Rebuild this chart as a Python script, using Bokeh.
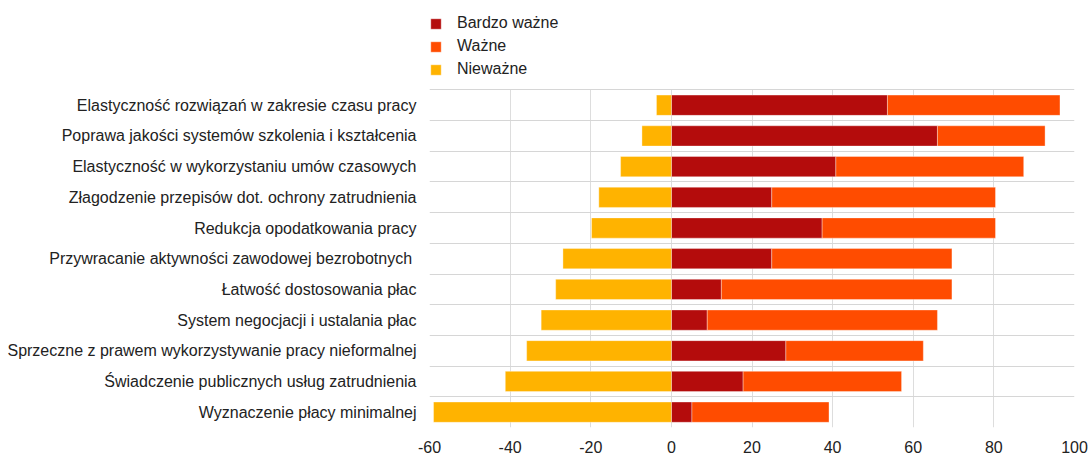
from bokeh.plotting import figure
from bokeh.models import ColumnDataSource, FixedTicker, Range1d, Legend, LegendItem
from bokeh.embed import file_html
from bokeh.resources import INLINE

categories = [
    "Elastyczność rozwiązań w zakresie czasu pracy",
    "Poprawa jakości systemów szkolenia i kształcenia",
    "Elastyczność w wykorzystaniu umów czasowych",
    "Złagodzenie przepisów dot. ochrony zatrudnienia",
    "Redukcja opodatkowania pracy",
    "Przywracanie aktywności zawodowej bezrobotnych ",
    "Łatwość dostosowania płac",
    "System negocjacji i ustalania płac",
    "Sprzeczne z prawem wykorzystywanie pracy nieformalnej",
    "Świadczenie publicznych usług zatrudnienia",
    "Wyznaczenie płacy minimalnej",
]
bardzo_wazne = [53.6, 66.0, 40.8, 24.9, 37.4, 24.9, 12.4, 8.9, 28.4, 17.8, 5.1]
wazne = [42.8, 26.7, 46.6, 55.5, 43.0, 44.7, 57.2, 57.1, 34.1, 39.3, 34.0]
niewazne = [3.7, 7.3, 12.6, 18.0, 19.8, 26.9, 28.7, 32.3, 35.9, 41.2, 59.0]
x_ticks = [-60, -40, -20, 0, 20, 40, 60, 80, 100]

n = len(categories)
ys = [n - i - 0.5 for i in range(n)]

src = ColumnDataSource(dict(
    y=ys,
    neg=[-v for v in niewazne],
    zero=[0] * n,
    bw=bardzo_wazne,
    tot=[a + b for a, b in zip(bardzo_wazne, wazne)],
))

FONT = "Liberation Sans"
FS = "16px"

p = figure(width=1088, height=455, output_backend="svg", toolbar_location=None,
           x_range=Range1d(-60, 100), y_range=Range1d(0, 13.75),
           min_border_left=8, min_border_right=14, min_border_bottom=0, min_border_top=5)
p.title.visible = False
p.outline_line_color = None

bh = 0.66
r1 = p.hbar(y="y", left="zero", right="bw", height=bh, source=src,
            fill_color="#B40C0C", line_color="white", line_alpha=0.35)
r2 = p.hbar(y="y", left="bw", right="tot", height=bh, source=src,
            fill_color="#FF4C00", line_color="white", line_alpha=0.35)
r3 = p.hbar(y="y", left="neg", right="zero", height=bh, source=src,
            fill_color="#FFB300", line_color="white", line_alpha=0.35)

# axes
p.xaxis.ticker = FixedTicker(ticks=x_ticks)
p.xaxis.major_label_overrides = {t: str(t) for t in x_ticks}
p.xaxis.axis_line_color = None
p.xaxis.major_tick_line_color = None
p.xaxis.minor_tick_line_color = None
p.xaxis.major_label_text_font = FONT
p.xaxis.major_label_text_font_size = FS
p.xaxis.major_label_text_color = "#222222"
p.xaxis.major_label_standoff = 7

p.yaxis.ticker = FixedTicker(ticks=ys)
p.yaxis.major_label_overrides = {y: c for y, c in zip(ys, categories)}
p.yaxis.axis_line_color = None
p.yaxis.major_tick_line_color = None
p.yaxis.minor_tick_line_color = None
p.yaxis.major_tick_out = 0
p.yaxis.major_tick_in = 0
p.yaxis.major_label_text_font = FONT
p.yaxis.major_label_text_font_size = FS
p.yaxis.major_label_text_color = "#222222"
p.yaxis.major_label_standoff = 13
p.yaxis.axis_label = " "
p.yaxis.axis_label_text_font_size = "1px"
p.yaxis.axis_label_standoff = 0

p.xgrid.ticker = FixedTicker(ticks=x_ticks)
p.xgrid.grid_line_color = "#dddddd"
p.xgrid.cross_bounds = (0, n)
p.ygrid.ticker = FixedTicker(ticks=list(range(n + 1)))
p.ygrid.grid_line_color = "#d6d6d6"
p.ygrid.cross_bounds = (-60, 100)

legend = Legend(items=[
    LegendItem(label="Bardzo ważne", renderers=[r1]),
    LegendItem(label="Ważne", renderers=[r2]),
    LegendItem(label="Nieważne", renderers=[r3]),
], orientation="vertical", location=(0, 348))
legend.border_line_color = None
legend.background_fill_alpha = 0
legend.margin = 0
legend.padding = 0
legend.spacing = 3
legend.label_height = 20
legend.glyph_height = 13
legend.glyph_width = 13
legend.label_standoff = 15
legend.label_text_font = FONT
legend.label_text_font_size = FS
legend.label_text_color = "#222222"
p.add_layout(legend)

open("out.html", "w").write(file_html(p, INLINE))
